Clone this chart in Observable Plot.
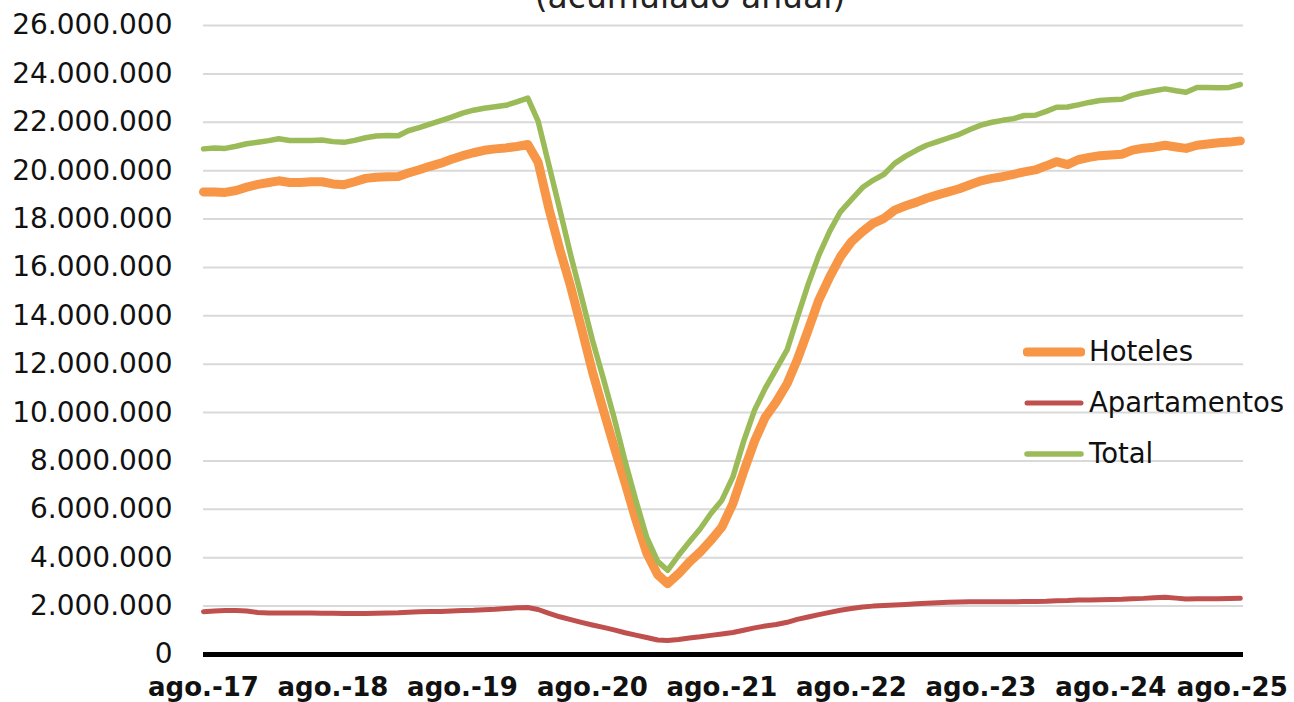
<!DOCTYPE html>
<html>
<head>
<meta charset="utf-8">
<script src="https://cdn.jsdelivr.net/npm/d3@7"></script>
<script src="https://cdn.jsdelivr.net/npm/@observablehq/plot@0.6"></script>
<style>
  html, body { margin: 0; padding: 0; background: #fff; }
  #wrap { position: relative; width: 1294px; height: 702px; overflow: hidden; font-family: "DejaVu Sans", Verdana, sans-serif; }
  #title { position: absolute; left: 0; top: 0; }
  #legend { position: absolute; left: 1023px; top: 326px; }
  .item { display: flex; align-items: center; height: 51px; }
  .item span { font-size: 27.5px; color: #111; margin-left: 4px; line-height: 1; }
</style>
</head>
<body>
<div id="wrap">
  <div id="chart"></div>
  <svg id="title" width="1294" height="40"></svg>
  <div id="legend"></div>
</div>
<script>
// ---- data (millions) ----
const seriesNames = ["Hoteles", "Apartamentos", "Total"];
const seriesColors = ["#F79646", "#C0504D", "#9BBB59"];
const seriesWidths = [9, 5, 5.5];
const startMonth = "2017-08";
const tickLabels = ["ago.-17","ago.-18","ago.-19","ago.-20","ago.-21","ago.-22","ago.-23","ago.-24","ago.-25"];
const yTickValues = [0, 2e6, 4e6, 6e6, 8e6, 10e6, 12e6, 14e6, 16e6, 18e6, 20e6, 22e6, 24e6, 26e6];

const hoteles = [
  19.12, 19.12, 19.10, 19.18, 19.32, 19.43, 19.51, 19.58, 19.51, 19.51, 19.54, 19.54,
  19.45, 19.42, 19.54, 19.68, 19.73, 19.75, 19.76, 19.90, 20.04, 20.18, 20.31, 20.47,
  20.62, 20.74, 20.84, 20.90, 20.94, 21.00, 21.08, 20.35, 18.40, 16.75, 15.20, 13.50,
  11.70, 10.10, 8.60, 7.10, 5.60, 4.20, 3.30, 2.93, 3.34, 3.82, 4.24, 4.72,
  5.27, 6.24, 7.55, 8.82, 9.80, 10.44, 11.20, 12.17, 13.41, 14.65, 15.61, 16.44,
  17.06, 17.48, 17.82, 18.03, 18.37, 18.55, 18.70, 18.86, 19.00, 19.12, 19.25, 19.42,
  19.58, 19.68, 19.75, 19.85, 19.95, 20.03, 20.20, 20.37, 20.25, 20.45, 20.55, 20.62,
  20.65, 20.68, 20.85, 20.93, 20.97, 21.05, 20.98, 20.92, 21.05, 21.10, 21.15, 21.18,
  21.23
];
const apartamentos = [
  1.77, 1.80, 1.82, 1.82, 1.80, 1.74, 1.72, 1.72, 1.72, 1.72, 1.72, 1.71,
  1.70, 1.69, 1.69, 1.69, 1.70, 1.72, 1.73, 1.75, 1.77, 1.78, 1.78, 1.80,
  1.82, 1.83, 1.85, 1.87, 1.90, 1.93, 1.94, 1.86, 1.70, 1.56, 1.44, 1.33,
  1.22, 1.12, 1.02, 0.90, 0.80, 0.70, 0.60, 0.58, 0.62, 0.68, 0.73, 0.79,
  0.85, 0.91, 1.00, 1.10, 1.18, 1.24, 1.33, 1.45, 1.55, 1.65, 1.74, 1.83,
  1.90, 1.96, 2.00, 2.03, 2.05, 2.07, 2.10, 2.12, 2.14, 2.16, 2.17, 2.18,
  2.18, 2.18, 2.18, 2.18, 2.19, 2.19, 2.20, 2.22, 2.23, 2.25, 2.25, 2.26,
  2.27, 2.28, 2.30, 2.32, 2.35, 2.37, 2.33, 2.29, 2.30, 2.30, 2.30, 2.31,
  2.32
];
const total = [
  20.90, 20.94, 20.92, 21.01, 21.11, 21.17, 21.24, 21.32, 21.25, 21.25, 21.25, 21.27,
  21.20, 21.17, 21.25, 21.36, 21.43, 21.45, 21.44, 21.65, 21.78, 21.92, 22.07, 22.21,
  22.38, 22.50, 22.58, 22.64, 22.70, 22.84, 23.00, 22.05, 20.20, 18.40, 16.50, 14.80,
  13.00, 11.40, 9.80, 8.00, 6.40, 4.85, 3.85, 3.48, 4.10, 4.65, 5.20, 5.83,
  6.38, 7.34, 8.80, 10.10, 11.00, 11.80, 12.60, 13.90, 15.30, 16.50, 17.50, 18.30,
  18.80, 19.30, 19.60, 19.85, 20.30, 20.60, 20.85, 21.05, 21.20, 21.35, 21.50, 21.70,
  21.88, 22.00, 22.08, 22.15, 22.28, 22.29, 22.45, 22.62, 22.63, 22.72, 22.82, 22.90,
  22.93, 22.95, 23.12, 23.22, 23.30, 23.38, 23.30, 23.24, 23.44, 23.44, 23.43, 23.44,
  23.56
];

// ---- build table ----
const start = new Date(startMonth + "-01T00:00:00Z");
const months = hoteles.map((_, i) => d3.utcMonth.offset(start, i));
const allSeries = [hoteles, apartamentos, total];
const rows = [];
allSeries.forEach((arr, s) => arr.forEach((v, i) => rows.push({series: seriesNames[s], date: months[i], value: v * 1e6})));

const xTicks = tickLabels.map((_, i) => months[i * 12]);
const labelOf = new Map(xTicks.map((d, i) => [+d, tickLabels[i]]));
const locale = d3.formatLocale({decimal: ",", thousands: ".", grouping: [3], currency: ["", " €"]});
const yFmt = locale.format(",.0f");

const xEnd = d3.utcDay.offset(months[months.length - 1], 9);

const lineMarks = seriesNames.map((name, s) =>
  Plot.line(rows.filter(r => r.series === name), {
    x: "date", y: "value",
    stroke: seriesColors[s], strokeWidth: seriesWidths[s],
    strokeLinejoin: "round", strokeLinecap: "round"
  })
);

const chart = Plot.plot({
  width: 1294, height: 702,
  marginLeft: 203, marginRight: 51, marginTop: 25, marginBottom: 48,
  style: {fontFamily: "DejaVu Sans, Verdana, sans-serif", background: "white", color: "#111", overflow: "visible"},
  x: {type: "utc", domain: [months[0], xEnd]},
  y: {domain: [0, 26e6]},
  marks: [
    Plot.gridY({ticks: yTickValues.filter(v => v > 0), stroke: "#d9d9d9", strokeOpacity: 1, strokeWidth: 2}),
    Plot.axisY({ticks: yTickValues, tickSize: 0, tickPadding: 31, fontSize: 28, tickFormat: yFmt, label: null}),
    Plot.axisX({ticks: xTicks.slice(0, -1), tickSize: 0, tickPadding: 23, fontSize: 26, fontWeight: "bold", tickFormat: d => labelOf.get(+d), label: null}),
    Plot.axisX({ticks: xTicks.slice(-1), tickSize: 0, tickPadding: 23, fontSize: 26, fontWeight: "bold", tickFormat: d => labelOf.get(+d), label: null, dx: -8}),
    Plot.ruleY([0], {stroke: "#000", strokeWidth: 5}),
    ...lineMarks
  ]
});
document.getElementById("chart").appendChild(chart);

// ---- title (top part cut off, as in the original) ----
const title = d3.select("#title");
title.append("text")
  .attr("x", 690).attr("y", 8)
  .attr("text-anchor", "middle")
  .attr("font-family", "DejaVu Sans, Verdana, sans-serif")
  .attr("font-size", 33)
  .attr("fill", "#222")
  .text("(acumulado anual)");

// ---- legend ----
const legend = d3.select("#legend");
seriesNames.forEach((name, s) => {
  const item = legend.append("div").attr("class", "item");
  const sw = item.append("svg").attr("width", 62).attr("height", 14);
  sw.append("line").attr("x1", 4).attr("x2", 58).attr("y1", 7).attr("y2", 7)
    .attr("stroke", seriesColors[s]).attr("stroke-width", seriesWidths[s]).attr("stroke-linecap", "round");
  item.append("span").text(name);
});
</script>
</body>
</html>
